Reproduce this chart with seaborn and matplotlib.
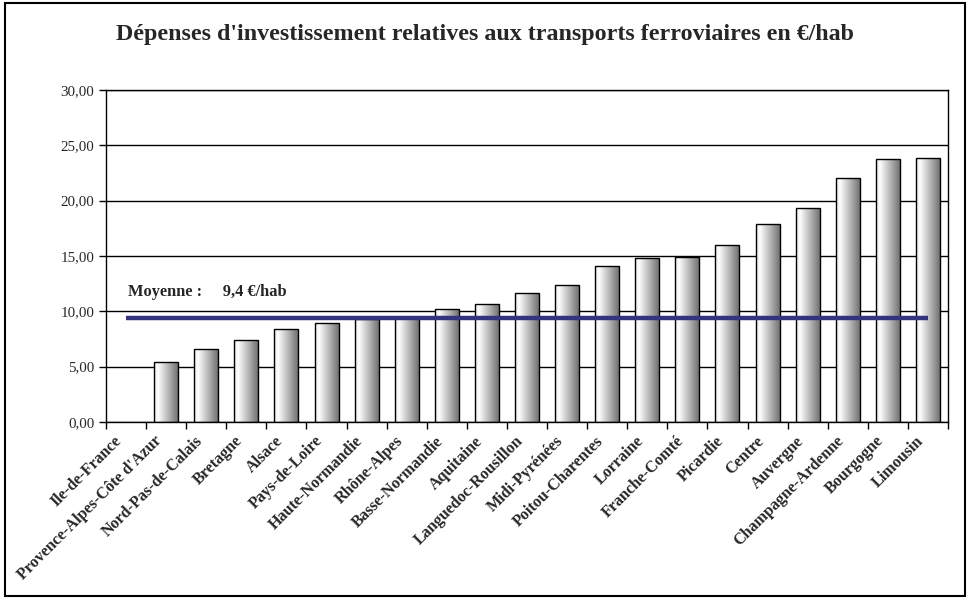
import numpy as np
import pandas as pd
import seaborn as sns
import matplotlib.pyplot as plt
from matplotlib.colors import LinearSegmentedColormap
from matplotlib.ticker import FuncFormatter, FixedLocator
from matplotlib.patches import Rectangle

# Data
regions = ["Ile-de-France", "Provence-Alpes-Côte d'Azur", "Nord-Pas-de-Calais", "Bretagne",
           "Alsace", "Pays-de-Loire", "Haute-Normandie", "Rhône-Alpes", "Basse-Normandie",
           "Aquitaine", "Languedoc-Rousillon", "Midi-Pyrénées", "Poitou-Charentes", "Lorraine",
           "Franche-Comté", "Picardie", "Centre", "Auvergne", "Champagne-Ardenne",
           "Bourgogne", "Limousin"]
depenses = [0.0, 5.45, 6.57, 7.38, 8.37, 8.92, 9.35, 9.45, 10.18, 10.63, 11.62,
            12.35, 14.06, 14.79, 14.90, 15.96, 17.86, 19.30, 22.01, 23.73, 23.82]
moyenne = 9.4

df = pd.DataFrame({"region": regions, "depenses": depenses})

sns.set_style("white")
plt.rcParams['font.family'] = ['Liberation Serif', 'DejaVu Serif']

fig = plt.figure(figsize=(9.7, 6.02), dpi=100)
ax = fig.add_axes([0.1093, 0.299, 0.868, 0.5515])

sns.barplot(data=df, x="region", y="depenses", ax=ax, width=0.6,
            color="white", edgecolor="black", linewidth=1, saturation=1)

# cylinder-like grey gradient inside each bar
cmap = LinearSegmentedColormap.from_list(
    "cyl", [(0, "#e4e4e4"), (0.15, "#ffffff"), (1, "#6c6c6c")])
grad = np.linspace(0, 1, 64).reshape(1, -1)
for p in ax.patches:
    h = p.get_height()
    p.set_facecolor("none")
    p.set_zorder(2)
    if h <= 0:
        p.set_visible(False)
        continue
    x0 = p.get_x()
    im = ax.imshow(grad, cmap=cmap, aspect="auto", zorder=1.5,
                   extent=[x0, x0 + p.get_width(), 0, h], interpolation="bilinear")
    im.set_clip_path(p)

# mean line
ax.hlines(moyenne, 0, len(regions) - 1, color="#333380", linewidth=3.2, zorder=3)
ax.text(0.05, 11.4, "Moyenne :     9,4 €/hab", fontsize=11.8, fontweight="bold", zorder=4)

ax.set_xlim(-0.5, len(regions) - 0.5)
ax.set_ylim(0, 30)
ax.set_yticks(np.arange(0, 31, 5))
ax.yaxis.set_major_formatter(FuncFormatter(lambda v, _: f"{v:.2f}".replace(".", ",")))
ax.yaxis.grid(True, color="black", linewidth=1)
ax.set_axisbelow(True)

# labels sit a little left of the category centre (invisible major ticks)
ax.set_xticks(np.arange(len(regions)) - 0.3)
ax.set_xticklabels(regions, rotation=45, ha="right", rotation_mode="anchor",
                   fontsize=11.6, fontweight="bold")
ax.xaxis.set_minor_locator(FixedLocator(np.arange(-0.5, len(regions), 1)))
ax.tick_params(axis="x", which="major", length=0, pad=8)
ax.tick_params(axis="x", which="minor", length=5, width=1, color="black", direction="out", bottom=True)
ax.tick_params(axis="y", length=5, width=1, color="black", direction="out", left=True, labelsize=10.8)
ax.set_xlabel("")
ax.set_ylabel("")
for s in ax.spines.values():
    s.set_color("black")
    s.set_linewidth(1)

fig.text(0.5, 0.942, "Dépenses d'investissement relatives aux transports ferroviaires en €/hab",
         ha="center", va="center", fontsize=17.3, fontweight="bold")

fig.patches.append(Rectangle((0.005, 0.01), 0.99, 0.985, transform=fig.transFigure,
                             fill=False, edgecolor="black", linewidth=1.5))

plt.savefig("out.png", dpi=100)
plt.close()
